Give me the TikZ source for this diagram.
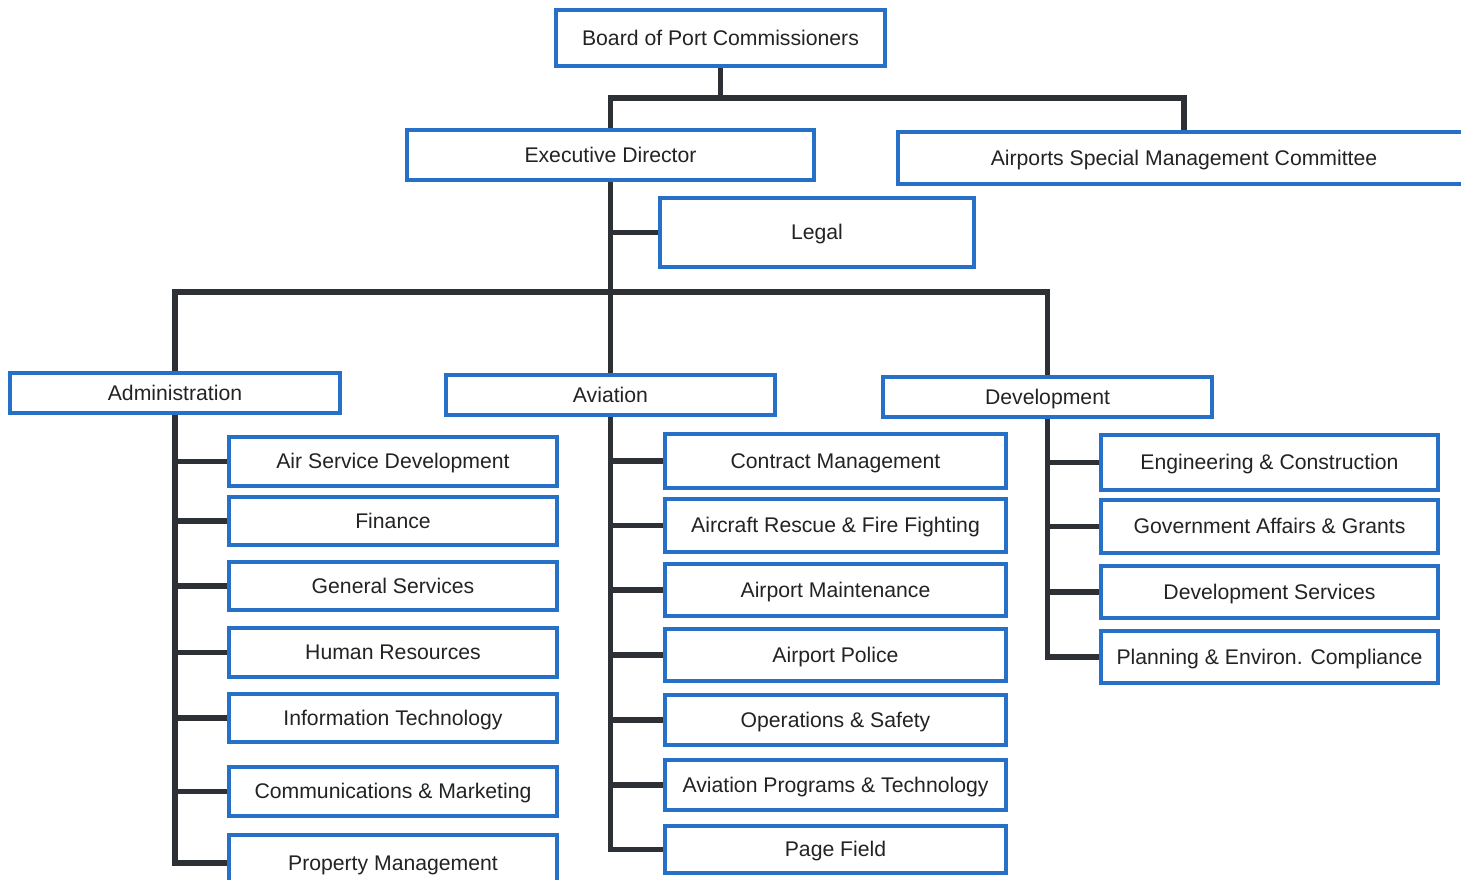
\documentclass[tikz,border=0pt]{standalone}
\usepackage{fontspec}
\setmainfont{Liberation Sans}
\definecolor{boxblue}{RGB}{38,112,200}
\definecolor{linegray}{RGB}{45,48,52}
\definecolor{txtgray}{RGB}{35,35,35}
\begin{document}
\begin{tikzpicture}[x=0.5pt,y=-0.5pt,
  box/.style 2 args={draw=boxblue,line width=2pt,fill=white,rectangle,
    minimum width=#1*0.5pt,minimum height=#2*0.5pt,inner sep=0pt,
    text height=0.72em,text depth=0pt,
    text=txtgray,font=\fontsize{10.6pt}{12pt}\selectfont},
  conn/.style={draw=linegray,line width=2.8pt}]
\useasboundingbox (0,0) rectangle (1461,879);
\clip (0,0) rectangle (1461,879);
\fill[white] (0,0) rectangle (1461,879);
% top level
\node[box={329}{56}] (board) at (720.5,38) {Board of Port Commissioners};
\node[box={407}{50}] (exec) at (610.5,155) {Executive Director};
\node[box={572}{52}] (asmc) at (1184,158) {Airports Special Management Committee};
\node[box={314}{69}] (legal) at (817,232.5) {Legal};
\node[box={330}{40}] (admin) at (175,393) {Administration};
\node[box={329}{40}] (avia) at (610.5,395) {Aviation};
\node[box={329}{40}] (dev) at (1047.5,397) {Development};
% admin children
\node[box={328}{49}] (a1) at (393,461.5) {Air Service Development};
\node[box={328}{48}] (a2) at (393,521) {Finance};
\node[box={328}{48}] (a3) at (393,586) {General Services};
\node[box={328}{49}] (a4) at (393,652.5) {Human Resources};
\node[box={328}{48}] (a5) at (393,718) {Information Technology};
\node[box={328}{49}] (a6) at (393,791.5) {Communications \& Marketing};
\node[box={328}{56}] (a7) at (393,863) {Property Management};
% aviation children
\node[box={341}{54}] (v1) at (835.5,461) {Contract Management};
\node[box={341}{53}] (v2) at (835.5,525.5) {Aircraft Rescue \& Fire Fighting};
\node[box={341}{52}] (v3) at (835.5,590) {Airport Maintenance};
\node[box={341}{52}] (v4) at (835.5,655) {Airport Police};
\node[box={341}{50}] (v5) at (835.5,720) {Operations \& Safety};
\node[box={341}{50}] (v6) at (835.5,785) {Aviation Programs \& Technology};
\node[box={341}{47}] (v7) at (835.5,849.5) {Page Field};
% development children
\node[box={337}{55}] (d1) at (1269.5,462.5) {Engineering \& Construction};
\node[box={337}{53}] (d2) at (1269.5,526.5) {Government Affairs \& Grants};
\node[box={337}{52}] (d3) at (1269.5,592) {Development Services};
\node[box={337}{52}] (d4) at (1269.5,657) {Planning \& Environ. Compliance};
% connectors
\coordinate (t1) at (720.5,98);
\coordinate (t2) at (610.5,292);
\draw[conn] (board.south) -- (t1);
\draw[conn] (exec.north) |- (t1) -| (asmc.north);
\draw[conn] (exec.south) -- (t2);
\draw[conn] (exec.south |- legal.west) -- (legal.west);
\draw[conn] (admin.north) |- (t2) -| (dev.north);
\draw[conn] (t2) -- (avia.north);
\draw[conn] (admin.south) -- (admin.south |- a7.west) -- (a7.west);
\foreach \c in {a1,a2,a3,a4,a5,a6} \draw[conn] (admin.south |- \c.west) -- (\c.west);
\draw[conn] (avia.south) -- (avia.south |- v7.west) -- (v7.west);
\foreach \c in {v1,v2,v3,v4,v5,v6} \draw[conn] (avia.south |- \c.west) -- (\c.west);
\draw[conn] (dev.south) -- (dev.south |- d4.west) -- (d4.west);
\foreach \c in {d1,d2,d3} \draw[conn] (dev.south |- \c.west) -- (\c.west);
\end{tikzpicture}
\end{document}
